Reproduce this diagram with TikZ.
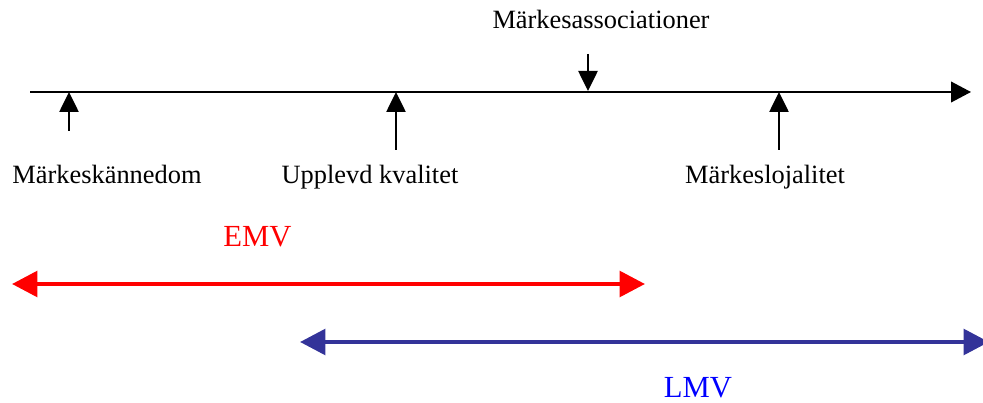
\documentclass[tikz,border=0pt]{standalone}
\usepackage{fontspec}
\setmainfont{Liberation Serif}
\usetikzlibrary{arrows.meta}
\definecolor{arrowblue}{RGB}{51,51,153}
\definecolor{textblue}{RGB}{0,0,255}
\definecolor{pured}{RGB}{255,0,0}
\tikzset{
  lbl/.style={anchor=base, inner sep=0pt, font=\fontsize{19.8}{23}\selectfont},
  biglbl/.style={anchor=base, inner sep=0pt, font=\fontsize{23}{27}\selectfont},
  axis/.style={line width=1.3pt, -{Triangle[length=15pt, width=15.5pt]}},
  marker/.style={line width=1.1pt, -{Triangle[length=15pt, width=14.5pt]}},
  span/.style={line width=3.4pt, {Triangle[length=19pt, width=19pt]}-{Triangle[length=19pt, width=19pt]}}
}
\begin{document}
\begin{tikzpicture}[x=0.75pt, y=-0.75pt]
\useasboundingbox (0,0) rectangle (983,403);
% axis
\coordinate (axL) at (30,92);
\coordinate (axR) at (971,92);
\draw[axis] (axL) -- (axR);
% markers on axis
\coordinate (m1) at (69,92);
\coordinate (m1t) at (69,131);
\coordinate (m2) at (396,92);
\coordinate (m2t) at (396,150);
\coordinate (m3) at (588,91);
\coordinate (m3t) at (588,54);
\coordinate (m4) at (779,92);
\coordinate (m4t) at (779,150);
\draw[marker] (m1t) -- (m1);
\draw[marker] (m2t) -- (m2);
\draw[marker] (m3t) -- (m3);
\draw[marker] (m4t) -- (m4);
% labels
\node[lbl] (assoc) at (601,29) {Märkesassociationer};
\node[lbl] (kann) at (107,184) {Märkeskännedom};
\node[lbl] (kval) at (370,184) {Upplevd kvalitet};
\node[lbl] (loj) at (765,184) {Märkeslojalitet};
% spans
\node[biglbl, text=pured] (emv) at (257.5,247) {EMV};
\coordinate (emvL) at (12,284);
\coordinate (emvR) at (645,284);
\draw[span, pured] (emvL) -- (emvR);
\node[biglbl, text=textblue] (lmv) at (698,397) {LMV};
\coordinate (lmvL) at (300,342);
\coordinate (lmvR) at (989,342);
\draw[span, arrowblue] (lmvL) -- (lmvR);
\end{tikzpicture}
\end{document}
